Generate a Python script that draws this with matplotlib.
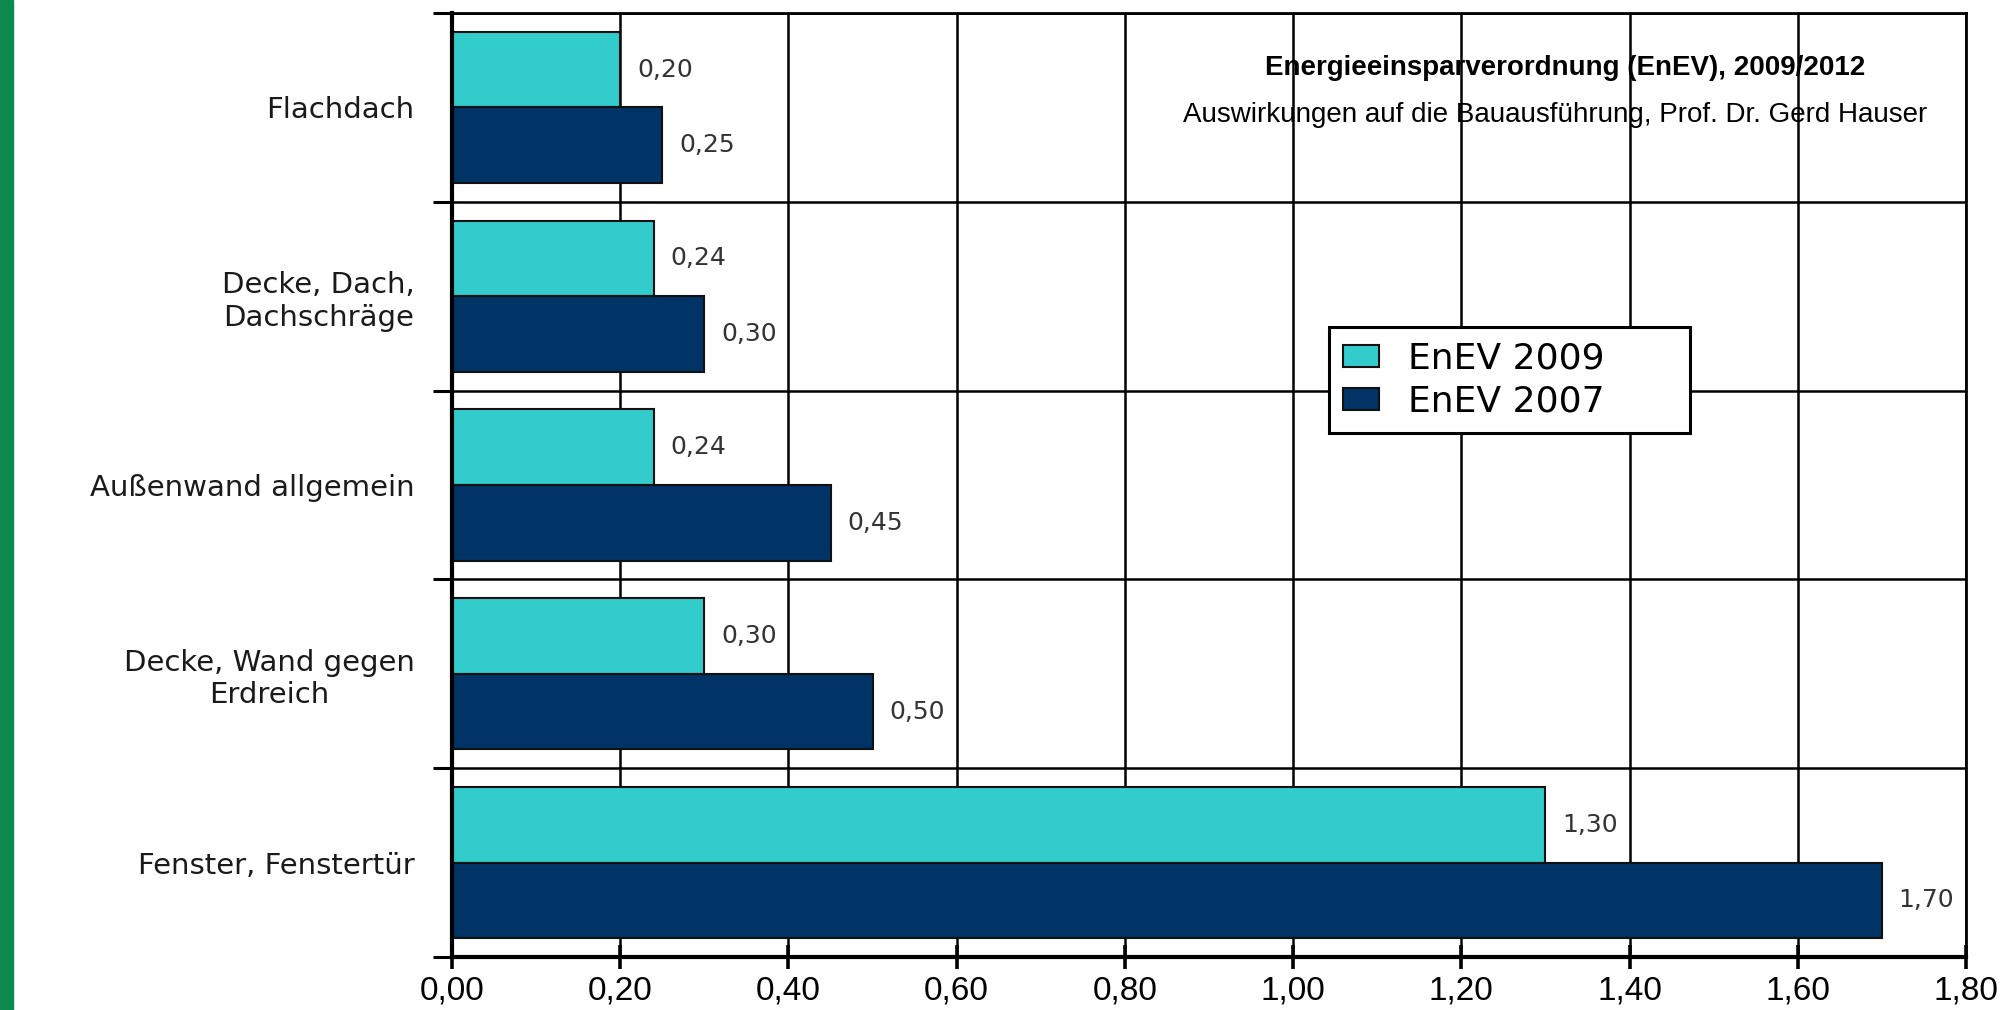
import numpy as np
import matplotlib
matplotlib.use('Agg')
from matplotlib import pyplot as plt
from matplotlib.patches import Rectangle

categories = ['Flachdach', 'Decke, Dach,\nDachschräge', 'Außenwand allgemein',
              'Decke, Wand gegen\nErdreich', 'Fenster, Fenstertür']
enev_2009 = [0.20, 0.24, 0.24, 0.30, 1.30]
enev_2007 = [0.25, 0.30, 0.45, 0.50, 1.70]
x_ticks = [0.0, 0.2, 0.4, 0.6, 0.8, 1.0, 1.2, 1.4, 1.6, 1.8]
x_tick_labels = ['0,00', '0,20', '0,40', '0,60', '0,80', '1,00', '1,20', '1,40', '1,60', '1,80']
series_names = ['EnEV 2009', 'EnEV 2007']
title_1 = 'Energieeinsparverordnung (EnEV), 2009/2012'
title_2 = 'Auswirkungen auf die Bauausführung, Prof. Dr. Gerd Hauser'

cyan = '#33CCCC'
navy = '#003366'

fig = plt.figure(figsize=(20.13, 10.10), dpi=100)
ax = fig.add_axes([452 / 2013, 53 / 1010, 1514 / 2013, 944 / 1010])

y = np.arange(len(categories))
h = 0.4
b1 = ax.barh(y - h / 2, enev_2009, height=h, color=cyan, edgecolor='#111111', linewidth=1.5, zorder=2)
b2 = ax.barh(y + h / 2, enev_2007, height=h, color=navy, edgecolor='#111111', linewidth=1.5, zorder=2)

ax.set_xlim(0, 1.8)
ax.set_ylim(len(categories) - 0.5, -0.5)

# category boundaries carry the ticks and grid, centers carry the labels
ax.set_yticks(np.arange(-0.5, len(categories), 1.0))
ax.set_yticklabels([])
ax.set_yticks(y, categories, minor=True)
for lab in ax.get_yticklabels(minor=True):
    lab.set_multialignment('center')
    lab.set_family('DejaVu Sans')
    lab.set_color('#1a1a1a')
ax.tick_params(axis='y', which='minor', length=0, pad=27, labelsize=21)
ax.tick_params(axis='y', which='major', length=14, width=2.2, direction='out')

ax.set_xticks(x_ticks, x_tick_labels)
for lab in ax.get_xticklabels():
    lab.set_family('Liberation Sans')
ax.tick_params(axis='x', direction='inout', length=17, width=2.6, labelsize=24, pad=5)

ax.grid(True, which='major', color='black', linewidth=1.8)
ax.set_axisbelow(True)

ax.spines['left'].set_linewidth(3)
ax.spines['bottom'].set_linewidth(3)
ax.spines['top'].set_linewidth(2)
ax.spines['right'].set_linewidth(2)

lab09 = [f'{v:.2f}'.replace('.', ',') for v in enev_2009]
lab07 = [f'{v:.2f}'.replace('.', ',') for v in enev_2007]
ax.bar_label(b1, labels=lab09, padding=12, fontsize=18, color='#333333', family='DejaVu Sans')
ax.bar_label(b2, labels=lab07, padding=12, fontsize=18, color='#333333', family='DejaVu Sans')

ax.text(0.735, 0.942, title_1, transform=ax.transAxes, ha='center', va='center',
        fontsize=20, fontweight='bold', family='Liberation Sans')
ax.text(0.7285, 0.892, title_2, transform=ax.transAxes, ha='center', va='center',
        fontsize=20, family='Liberation Sans')

leg = ax.legend([b1, b2], series_names, bbox_to_anchor=(0.579, 0.556, 0.239, 0.11),
                mode='expand', loc='center', fancybox=False, edgecolor='black',
                framealpha=1, prop={'family': 'DejaVu Sans', 'size': 26},
                handlelength=1.0, handleheight=0.6, borderaxespad=0,
                handletextpad=0.8, labelspacing=0.25)
leg.get_frame().set_linewidth(2.2)

fig.add_artist(Rectangle((0, 0), 13 / 2013, 1, transform=fig.transFigure, color='#0D8A4E'))

fig.savefig('out.png', dpi=100)
